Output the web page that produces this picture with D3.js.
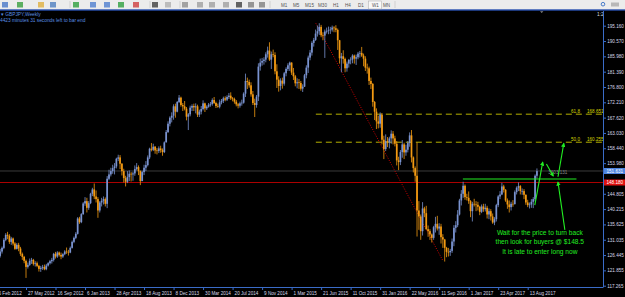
<!DOCTYPE html>
<html>
<head>
<meta charset="utf-8">
<script src="https://cdn.jsdelivr.net/npm/d3@7"></script>
<style>
  body { margin: 0; background: #000; overflow: hidden; }
  svg { display: block; }
</style>
</head>
<body>
<div id="chart"></div>
<script>
var W = 625, H = 297;
var plot = { left: 0, top: 11, right: 603, bottom: 287 };

// weekly GBPJPY bars, first bar opens the week of 19 Feb 2012
var firstBar = new Date(2012, 1, 19);
var firstOpen = 126.2;
var closes = [
  127.5,128.6,131.0,132.5,132.2,130.4,131.4,129.9,128.3,129.5,
  128.4,126.8,125.9,124.7,122.9,123.5,124.7,125.0,123.8,124.0,
  123.2,122.3,122.6,122.9,122.2,123.3,124.0,124.6,125.0,126.8,
  126.0,127.2,126.5,126.0,126.7,127.5,127.4,127.2,128.6,130.4,
  131.6,132.8,137.4,136.3,138.7,141.9,142.6,140.6,142.0,144.8,
  146.1,144.0,143.2,139.8,142.2,142.7,143.2,141.8,149.3,150.6,
  151.6,152.5,153.0,155.3,155.7,153.8,151.6,149.5,148.4,149.8,
  150.8,150.6,150.9,152.2,152.8,151.6,148.6,151.3,152.6,153.4,
  155.7,158.3,158.0,158.9,157.8,157.6,158.4,157.9,157.3,160.2,
  163.3,165.8,167.6,168.2,171.0,169.4,172.3,173.6,171.4,171.0,
  170.3,167.9,168.6,170.6,171.1,170.7,171.0,168.5,169.4,170.2,
  171.9,170.4,170.9,171.5,171.7,172.9,172.0,171.1,170.9,172.2,
  172.6,173.4,173.0,173.8,174.2,173.4,173.2,172.4,171.6,171.2,
  171.9,172.1,174.8,178.6,178.3,177.3,174.6,172.0,171.4,173.9,
  182.9,184.1,184.6,185.0,186.6,187.7,185.0,186.6,186.4,181.5,
  179.0,177.1,178.7,177.8,180.9,182.2,183.3,184.1,181.1,180.0,
  177.9,178.2,178.0,176.3,176.9,180.3,182.6,185.6,187.1,190.0,
  190.9,192.8,193.5,194.8,192.3,192.2,193.4,193.6,193.8,194.0,
  194.6,194.4,193.9,190.8,185.4,186.0,185.2,182.4,183.8,184.9,
  185.0,186.2,185.3,185.7,186.8,187.0,186.2,185.3,182.6,182.4,
  178.6,177.7,172.3,169.4,166.5,165.8,168.5,161.0,158.2,160.6,
  160.2,161.4,162.8,161.4,159.8,154.8,154.3,157.3,159.6,157.2,
  158.0,160.0,162.3,155.7,152.5,150.2,139.8,138.0,133.6,140.4,
  139.0,134.2,133.6,132.6,131.6,134.8,135.8,134.4,135.0,131.8,
  131.1,128.6,127.4,127.3,127.7,130.5,134.6,135.4,138.6,142.8,
  144.8,147.2,143.8,143.6,142.6,139.6,141.8,141.6,141.5,140.9,
  139.4,141.0,140.2,140.6,138.6,139.6,138.0,136.2,137.2,141.4,
  144.0,144.6,147.0,146.0,142.8,141.6,140.8,141.8,141.7,145.3,
  146.6,147.1,145.6,145.6,144.5,142.2,141.4,141.6,142.4,143.2,
  150.2,151.6
];
var highs = [
  128.3,129.0,131.5,133.0,133.4,132.7,131.9,131.7,130.3,130.0,
  130.1,128.9,127.2,126.2,125.1,124.2,125.4,125.6,125.3,124.6,
  124.5,123.5,123.2,123.5,123.6,123.8,124.3,125.0,125.6,127.1,
  127.4,127.6,127.5,127.2,127.0,127.9,128.7,128.0,129.0,130.8,
  132.0,133.3,137.8,137.9,139.0,142.3,143.8,143.6,142.6,145.1,
  146.6,147.9,145.8,143.8,142.6,143.6,144.0,143.7,150.1,152.0,
  152.6,153.5,154.0,155.6,156.5,156.4,154.0,152.3,150.2,151.6,
  151.8,151.3,151.4,153.3,154.0,153.3,151.8,151.7,153.5,154.6,
  156.3,158.6,160.0,159.8,159.1,158.5,159.0,159.2,158.4,160.5,
  163.9,166.5,168.0,169.2,171.6,171.8,172.6,174.4,173.9,172.0,
  172.6,170.8,169.0,171.2,171.6,171.8,171.9,171.5,170.0,171.1,
  172.8,172.1,171.3,172.0,172.3,173.4,173.8,172.4,171.8,173.0,
  173.2,173.9,174.0,174.3,175.0,175.2,173.8,173.6,172.9,172.0,
  172.4,173.0,175.2,180.8,179.6,179.0,178.2,175.6,173.3,174.4,
  183.9,185.3,185.5,185.7,187.2,188.9,190.2,187.4,188.0,187.2,
  183.6,180.0,179.4,179.6,181.3,182.7,183.9,184.4,184.2,182.5,
  180.4,179.4,179.2,178.6,177.6,180.7,183.3,186.2,187.9,190.5,
  191.5,194.0,195.2,195.9,195.4,193.2,194.0,194.6,194.9,194.8,
  195.2,195.0,195.3,194.3,190.9,187.0,187.8,185.6,184.4,185.2,
  185.7,186.6,186.5,186.5,187.3,187.6,188.8,186.8,186.0,183.8,
  182.9,179.6,178.0,172.6,170.4,168.2,169.2,169.0,162.2,162.6,
  161.8,161.9,163.8,163.6,162.2,160.6,155.9,157.9,160.9,160.1,
  159.5,160.6,163.2,163.9,156.0,153.0,160.2,142.6,138.6,142.3,
  140.9,141.2,135.3,134.2,132.9,135.2,137.9,138.2,136.0,135.8,
  132.7,131.3,128.9,128.6,128.3,131.4,135.4,136.6,139.9,143.3,
  145.9,148.4,147.6,144.8,145.5,142.9,142.4,143.3,142.6,142.4,
  141.2,141.6,141.8,141.8,141.2,140.4,140.2,138.9,137.8,141.8,
  144.4,145.6,148.1,147.5,146.2,143.4,142.8,142.4,142.9,145.8,
  147.0,148.2,147.4,146.4,146.2,144.6,143.0,142.2,143.2,143.8,
  150.6,152.4
];
var lows = [
  125.7,126.9,128.2,130.6,131.2,129.8,129.5,129.3,128.0,128.1,
  127.6,126.2,125.0,124.0,119.6,122.4,123.2,123.8,123.3,123.0,
  122.8,121.5,121.4,122.0,121.9,121.9,123.0,123.6,123.9,124.5,
  125.4,125.6,126.0,125.2,125.6,126.4,126.8,126.3,127.0,128.4,
  130.0,131.2,132.6,135.8,136.0,138.5,141.2,139.2,140.0,141.7,
  144.1,143.2,142.2,137.6,139.2,141.0,141.6,141.0,140.5,148.9,
  150.0,150.8,150.6,152.4,154.6,152.2,150.3,148.2,147.0,148.0,
  148.6,148.5,148.7,150.2,151.8,150.4,147.4,148.6,150.4,151.6,
  153.0,155.2,157.5,157.6,156.8,156.6,157.0,157.1,156.2,157.0,
  160.6,163.0,165.0,166.2,167.0,167.6,169.2,172.0,170.9,169.6,
  169.8,166.8,163.9,168.0,169.6,169.6,168.9,167.8,167.8,168.6,
  169.8,169.3,169.9,170.6,170.9,171.2,171.7,170.5,170.6,170.4,
  171.6,172.0,172.5,172.6,173.2,172.9,172.5,171.8,171.0,170.4,
  170.6,171.2,171.8,173.8,176.2,176.6,173.9,171.4,167.8,170.6,
  172.6,181.7,183.2,183.5,184.2,185.6,184.6,182.2,185.7,180.6,
  176.5,175.4,175.8,176.3,177.2,180.0,181.6,181.6,180.4,178.9,
  177.0,176.4,176.2,175.7,175.3,176.8,179.4,181.0,184.8,186.2,
  188.9,190.6,191.9,192.4,191.7,190.8,185.5,192.8,192.6,192.7,
  193.4,193.2,193.2,187.9,183.8,181.2,183.8,181.2,181.4,182.6,
  183.6,183.9,183.8,183.4,185.1,185.6,185.8,183.0,181.6,180.8,
  177.4,176.2,170.9,166.9,164.2,164.4,164.6,159.6,155.2,157.6,
  158.8,158.4,159.8,159.6,159.0,153.3,151.9,153.4,155.6,155.2,
  156.2,157.2,158.9,154.2,151.2,148.4,132.0,134.0,131.0,132.3,
  137.8,134.0,131.9,131.0,130.2,131.0,133.2,133.8,132.5,129.9,
  128.6,124.5,125.8,126.0,126.2,127.1,129.1,133.2,134.8,138.3,
  141.3,143.6,143.0,142.8,141.8,137.8,136.5,141.0,139.6,139.8,
  138.4,139.0,139.4,139.5,137.4,137.2,136.8,135.8,135.4,136.5,
  140.8,143.2,144.4,145.2,142.4,140.3,139.2,139.8,140.9,141.6,
  144.6,145.6,144.6,144.5,143.2,141.5,140.8,140.4,140.6,140.5,
  142.6,149.4
];

// axis labels
var dateTicks = ['2012-02-05','2012-05-27','2012-09-16','2013-01-06','2013-04-28','2013-08-18',
  '2013-12-08','2014-03-30','2014-07-20','2014-11-09','2015-03-01','2015-06-21','2015-10-11',
  '2016-01-31','2016-05-22','2016-09-11','2017-01-01','2017-04-23','2017-08-13'];
var dateTickLabels = ['5 Feb 2012','27 May 2012','16 Sep 2012','6 Jan 2013','28 Apr 2013','18 Aug 2013',
  '8 Dec 2013','30 Mar 2014','20 Jul 2014','9 Nov 2014','1 Mar 2015','21 Jun 2015','11 Oct 2015',
  '31 Jan 2016','22 May 2016','11 Sep 2016','1 Jan 2017','23 Apr 2017','13 Aug 2017'];
var priceTicks = [117.265,121.855,126.445,131.035,135.625,140.215,144.805,153.980,158.440,
  163.030,167.620,172.210,176.800,181.390,185.980,190.570,195.160];

// objects on the chart
var currentPrice = 151.631;
var redLevel = 148.180;
var fibAnchors = [['2015-06-01', 195.88], ['2016-09-26', 124.63]];
var fibLevels = [['61.8', 168.651], ['50.0', 160.255]];
var supportLine = [['2016-12-10', 149.23], ['2018-02-14', 149.23]];
var lineLabel = ['2017-10-30', 150.6, '3603.131'];
var arrows = [
  [['2017-09-09', 141.4], ['2017-10-09', 154.3]],
  [['2017-10-23', 153.7], ['2017-11-18', 150.1]],
  [['2017-12-06', 149.9], ['2017-12-28', 159.9]],
  [['2018-01-01', 134.0], ['2017-12-06', 148.3]]
];
var note = ['Wait for the price to turn back', 'then look for buyers @ $148.5', 'It is late to enter long now'];
var noteAt = ['2017-09-28', 132.4];
var timeframes = ['M1','M5','M15','M30','H1','H4','D1','W1','MN'];

var parse = d3.timeParse('%Y-%m-%d');
var bars = closes.map(function (c, i) {
  return {
    date: d3.timeWeek.offset(firstBar, i),
    open: i ? closes[i - 1] : firstOpen,
    high: highs[i], low: lows[i], close: c
  };
});

var x = d3.scaleTime()
  .domain([new Date(2012, 4, 27), new Date(2017, 7, 13)])
  .range([26, 527.7]);
var y = d3.scaleLinear()
  .domain([117.265, 195.160])
  .range([285.7, 25.7]);

var font = 'Liberation Sans, Arial, sans-serif';
var axisBlue = '#3a6cc8';

var svg = d3.select('#chart').append('svg')
  .attr('width', W).attr('height', H);

svg.append('rect').attr('width', W).attr('height', H).attr('fill', '#000');

// toolbar
var bar = svg.append('g');
bar.append('rect').attr('width', W).attr('height', 10).attr('fill', '#ececec');
bar.append('rect').attr('y', 9.3).attr('width', W).attr('height', 1.4).attr('fill', '#2850b0');
var iconX = [2, 17, 38, 50, 73, 90, 104, 118, 133, 152, 165, 182, 197, 209, 223, 236, 248, 259];
var iconC = ['#4a78c8','#3aa040','#e0b040','#5080c0','#30a040','#5080d0','#5080d0','#30a040','#d04040',
  '#404040','#b0b0b0','#909090','#a0a0a0','#a0a0a0','#a0a0a0','#404040','#808080','#808080'];
iconX.forEach(function (ix, i) {
  bar.append('rect').attr('x', ix).attr('y', 2).attr('width', 6).attr('height', 5.5)
    .attr('fill', iconC[i]).attr('opacity', 0.8);
});
[[70, 1, 8], [150, 1, 8], [180, 1, 8], [270, 1, 8], [395, 1, 8]].forEach(function (s) {
  bar.append('line').attr('x1', s[0]).attr('x2', s[0]).attr('y1', s[1]).attr('y2', s[2])
    .attr('stroke', '#c0c0c0').attr('stroke-width', 0.6);
});
var tfX = [281, 293, 305, 318, 333, 345, 358, 372, 383];
bar.append('rect').attr('x', 368.5).attr('y', 1).attr('width', 13).attr('height', 8)
  .attr('fill', '#f8f8f8').attr('stroke', '#a8a8a8').attr('stroke-width', 0.5);
bar.selectAll('text.tf').data(timeframes).enter().append('text')
  .attr('class', 'tf')
  .attr('x', function (d, i) { return tfX[i]; })
  .attr('y', 7)
  .attr('font-family', font).attr('font-size', 4.6).attr('fill', '#555')
  .text(function (d) { return d; });
bar.append('circle').attr('cx', 603).attr('cy', 4.2).attr('r', 1.8)
  .attr('fill', 'none').attr('stroke', '#2060c0').attr('stroke-width', 0.8);
bar.append('rect').attr('x', 611).attr('y', 2.5).attr('width', 8).attr('height', 4)
  .attr('fill', '#b8b8b8');

// plot area
svg.append('clipPath').attr('id', 'plotClip').append('rect')
  .attr('x', plot.left).attr('y', plot.top)
  .attr('width', plot.right - plot.left).attr('height', plot.bottom - plot.top);
var g = svg.append('g').attr('clip-path', 'url(#plotClip)');

// horizontal levels across the chart
g.append('line').attr('x1', plot.left).attr('x2', plot.right)
  .attr('y1', y(currentPrice)).attr('y2', y(currentPrice))
  .attr('stroke', '#4a4a4a').attr('stroke-width', 0.8);
g.append('line').attr('x1', plot.left).attr('x2', plot.right)
  .attr('y1', y(redLevel)).attr('y2', y(redLevel))
  .attr('stroke', '#c00000').attr('stroke-width', 0.9);

// fibonacci levels
var fibX0 = x(parse(fibAnchors[0][0]));
fibLevels.forEach(function (f) {
  g.append('line').attr('x1', fibX0).attr('x2', plot.right)
    .attr('y1', y(f[1])).attr('y2', y(f[1]))
    .attr('stroke', '#c8c400').attr('stroke-width', 0.9)
    .attr('stroke-dasharray', '6,4');
  g.append('text').attr('x', 571).attr('y', y(f[1]) - 1.3)
    .attr('font-family', font).attr('font-size', 4.6).attr('fill', '#d8d400')
    .text(f[0]);
  g.append('text').attr('x', 587).attr('y', y(f[1]) - 1.3)
    .attr('font-family', font).attr('font-size', 4.6).attr('fill', '#d8d400')
    .text(d3.format('.3f')(f[1]));
});
g.append('line')
  .attr('x1', x(parse(fibAnchors[0][0]))).attr('y1', y(fibAnchors[0][1]))
  .attr('x2', x(parse(fibAnchors[1][0]))).attr('y2', y(fibAnchors[1][1]))
  .attr('stroke', '#d40000').attr('stroke-width', 1).attr('stroke-dasharray', '1,1.5');

// candles
var bull = '#7a93d0', bear = '#f39a12';
var candles = g.selectAll('g.candle').data(bars).enter().append('g').attr('class', 'candle');
candles.append('line')
  .attr('x1', function (d) { return x(d.date); })
  .attr('x2', function (d) { return x(d.date); })
  .attr('y1', function (d) { return y(Math.max(d.high, d.open, d.close)); })
  .attr('y2', function (d) { return y(Math.min(d.low, d.open, d.close)); })
  .attr('stroke', function (d) { return d.close >= d.open ? bull : bear; })
  .attr('stroke-width', 0.8);
candles.append('rect')
  .attr('x', function (d) { return x(d.date) - 0.85; })
  .attr('width', 1.7)
  .attr('y', function (d) { return y(Math.max(d.open, d.close)); })
  .attr('height', function (d) { return Math.max(0.6, Math.abs(y(d.open) - y(d.close))); })
  .attr('fill', function (d) { return d.close >= d.open ? bull : bear; });

// green annotations
var green = '#22ee22';
g.append('line')
  .attr('x1', x(parse(supportLine[0][0]))).attr('y1', y(supportLine[0][1]))
  .attr('x2', x(parse(supportLine[1][0]))).attr('y2', y(supportLine[1][1]))
  .attr('stroke', green).attr('stroke-width', 1.2);
g.append('text')
  .attr('x', x(parse(lineLabel[0]))).attr('y', y(lineLabel[1]))
  .attr('font-family', font).attr('font-size', 4.6).attr('fill', '#8a8a8a')
  .text(lineLabel[2]);
svg.append('defs').append('marker').attr('id', 'head')
  .attr('viewBox', '0 0 10 10').attr('refX', 8).attr('refY', 5)
  .attr('markerWidth', 4).attr('markerHeight', 4).attr('orient', 'auto')
  .append('path').attr('d', 'M0,0L10,5L0,10Z').attr('fill', green);
arrows.forEach(function (a) {
  g.append('line')
    .attr('x1', x(parse(a[0][0]))).attr('y1', y(a[0][1]))
    .attr('x2', x(parse(a[1][0]))).attr('y2', y(a[1][1]))
    .attr('stroke', green).attr('stroke-width', 1.1)
    .attr('marker-end', 'url(#head)');
});
var noteText = g.append('text')
  .attr('x', x(parse(noteAt[0]))).attr('y', y(noteAt[1]))
  .attr('text-anchor', 'middle')
  .attr('font-family', font).attr('font-size', 6.6).attr('fill', green);
note.forEach(function (line, i) {
  noteText.append('tspan').attr('x', x(parse(noteAt[0]))).attr('dy', i ? 9.2 : 0).text(line);
});

// header texts
svg.append('text').attr('x', 1).attr('y', 15.5)
  .attr('font-family', font).attr('font-size', 4.8).attr('fill', '#5a8ee0')
  .text('\u25be GBPJPY,Weekly');
svg.append('text').attr('x', 0).attr('y', 21.6)
  .attr('font-family', font).attr('font-size', 4.8).attr('fill', '#5a8ee0')
  .text('4423 minutes 31 seconds left to bar end');
svg.append('text').attr('x', 597).attr('y', 15.5)
  .attr('font-family', font).attr('font-size', 4.8).attr('fill', '#ddd')
  .text('1:2');
svg.append('path').attr('d', 'M540,11.2L543.4,11.2L541.7,13Z').attr('fill', '#888');

// price axis
svg.append('line').attr('x1', plot.right + 0.5).attr('x2', plot.right + 0.5)
  .attr('y1', plot.top).attr('y2', plot.bottom)
  .attr('stroke', axisBlue).attr('stroke-width', 1);
var yAxis = svg.append('g')
  .attr('transform', 'translate(' + (plot.right + 0.5) + ',0)')
  .call(d3.axisRight(y).tickValues(priceTicks).tickSize(2.5).tickPadding(1.2)
    .tickFormat(d3.format('.3f')));
yAxis.select('.domain').remove();
yAxis.selectAll('line').attr('stroke', axisBlue);
yAxis.selectAll('text').attr('font-family', font).attr('font-size', 4.6).attr('fill', '#d8d8e8');

function priceBox(value, fill) {
  svg.append('rect').attr('x', plot.right + 1).attr('y', y(value) - 3)
    .attr('width', 21).attr('height', 6).attr('fill', fill);
  svg.append('text').attr('x', plot.right + 3.5).attr('y', y(value) + 1.7)
    .attr('font-family', font).attr('font-size', 4.6).attr('fill', '#fff')
    .text(d3.format('.3f')(value));
}
priceBox(currentPrice, '#4f86e0');
priceBox(redLevel, '#e01010');

// time axis
svg.append('line').attr('x1', plot.left).attr('x2', plot.right + 0.5)
  .attr('y1', plot.bottom + 0.5).attr('y2', plot.bottom + 0.5)
  .attr('stroke', axisBlue).attr('stroke-width', 1);
var xAxis = svg.append('g')
  .attr('transform', 'translate(0,' + (plot.bottom + 0.5) + ')')
  .call(d3.axisBottom(x).tickValues(dateTicks.map(parse)).tickSize(2.5)
    .tickFormat(function (d, i) { return dateTickLabels[i]; }));
xAxis.select('.domain').remove();
xAxis.selectAll('line').attr('stroke', axisBlue);
xAxis.selectAll('text')
  .attr('text-anchor', 'start').attr('x', 1.5).attr('dy', 0).attr('y', 7)
  .attr('font-family', font).attr('font-size', 4.6).attr('fill', '#d8d8e8');
</script>
</body>
</html>
